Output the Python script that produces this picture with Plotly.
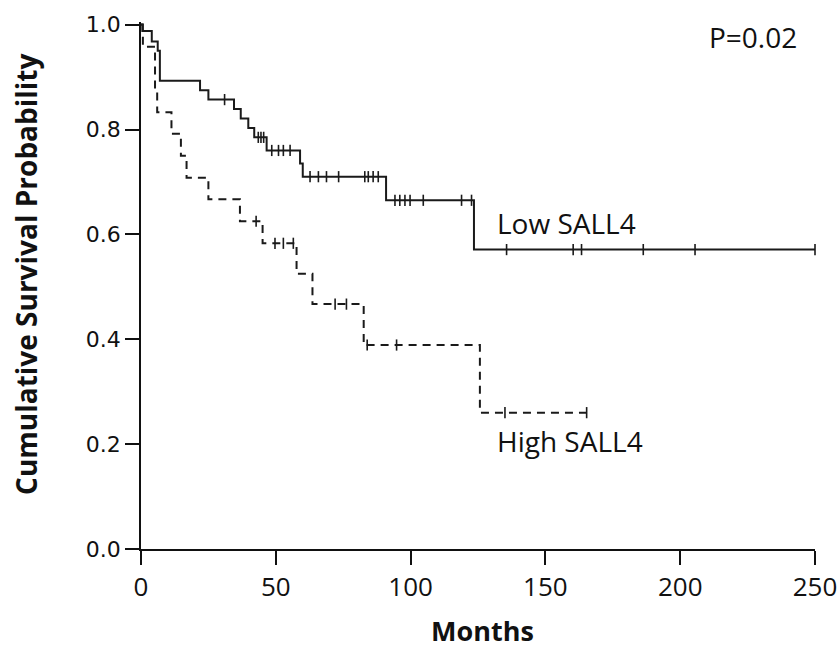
import numpy as np
import plotly.graph_objects as go

# Kaplan-Meier estimates: event times (months) and survival after each event
low_event_months = [0.5, 4.0, 6.2, 7.0, 21.9, 25.0, 34.5, 37.0, 39.8, 42.0, 46.6,
                    59.0, 60.0, 90.9, 123.5]
low_survival = [0.988, 0.968, 0.950, 0.893, 0.875, 0.857, 0.839, 0.821, 0.803,
                0.785, 0.760, 0.735, 0.710, 0.665, 0.571]
low_censored = [31.0, 43.5, 44.5, 45.5, 48.5, 51.0, 52.8, 55.3, 62.7, 65.8, 68.8,
                73.3, 83.0, 84.3, 86.1, 88.0, 94.2, 96.0, 97.9, 99.8, 104.7, 118.9,
                122.6, 135.6, 160.3, 163.4, 186.3, 205.5, 250.0]

high_event_months = [0.7, 5.2, 6.0, 11.3, 14.8, 16.9, 25.0, 36.7, 45.1, 57.7,
                     63.6, 82.6, 125.7]
high_survival = [0.958, 0.875, 0.833, 0.792, 0.750, 0.708, 0.667, 0.625, 0.583,
                 0.525, 0.467, 0.389, 0.260]
high_censored = [42.7, 49.7, 52.8, 56.5, 72.0, 76.2, 83.9, 94.8, 135.0, 165.3]

x_ticks = [0, 50, 100, 150, 200, 250]
y_ticks = [0.0, 0.2, 0.4, 0.6, 0.8, 1.0]


def step_curve(times, surv, end):
    xs = [0.0] + list(times) + [end]
    ys = [1.0] + list(surv) + [surv[-1]]
    return xs, ys


def surv_at(times, surv, t):
    idx = np.searchsorted(np.asarray(times), t, side="right") - 1
    return 1.0 if idx < 0 else surv[idx]


LINE = "#1a1a1a"
INK = "#111111"
fig = go.Figure()

for times, surv, cens, dash in [
    (low_event_months, low_survival, low_censored, "solid"),
    (high_event_months, high_survival, high_censored, "8px,6px"),
]:
    xs, ys = step_curve(times, surv, max(cens))
    fig.add_trace(go.Scatter(x=xs, y=ys, mode="lines", line_shape="hv",
                             line=dict(color=LINE, width=2, dash=dash),
                             showlegend=False, hoverinfo="skip", cliponaxis=False))
    fig.add_trace(go.Scatter(x=cens, y=[surv_at(times, surv, c) for c in cens],
                             mode="markers", cliponaxis=False,
                             marker=dict(symbol="line-ns", size=8,
                                         line=dict(color=LINE, width=1.6)),
                             showlegend=False, hoverinfo="skip"))

label_font = dict(family="Open Sans", size=28, color=INK)
fig.add_annotation(x=131.3, y=0.622, text="Low SALL4", showarrow=False,
                   xanchor="left", yanchor="middle", font=label_font)
fig.add_annotation(x=131.3, y=0.206, text="High SALL4", showarrow=False,
                   xanchor="left", yanchor="middle", font=label_font)
fig.add_annotation(x=210.0, y=0.977, text="P=0.02", showarrow=False,
                   xanchor="left", yanchor="middle",
                   font=dict(family="Open Sans", size=28, color=INK))

# axis titles
fig.add_annotation(xref="paper", yref="paper", x=0.507, y=0, yshift=-81,
                   text="<b>Months</b>", showarrow=False,
                   xanchor="center", yanchor="middle",
                   font=dict(family="Open Sans", size=27, color=INK))
fig.add_annotation(xref="paper", yref="paper", x=0, xshift=-115, y=0.52,
                   text="<b>Cumulative Survival Probability</b>", showarrow=False,
                   textangle=-90, xanchor="center", yanchor="middle",
                   font=dict(family="Open Sans", size=28, color=INK))

axis_common = dict(showgrid=False, zeroline=False, showline=True, automargin=False,
                   linecolor=INK, linewidth=1.5, ticks="outside",
                   ticklen=14, tickwidth=1.5, tickcolor=INK)

fig.update_xaxes(range=[0, 250], tickvals=x_ticks,
                 ticktext=[str(v) for v in x_ticks],
                 tickfont=dict(family="Open Sans", size=26, color=INK),
                 **axis_common)
fig.update_yaxes(range=[0, 1.005], tickvals=y_ticks,
                 ticktext=[f"{v:.1f}" for v in y_ticks],
                 tickfont=dict(family="DejaVu Sans", size=22, color=INK),
                 **axis_common)

fig.update_layout(width=840, height=650, plot_bgcolor="white", paper_bgcolor="white",
                  margin=dict(l=141, r=25, t=22, b=101))

fig.write_html("out.html")
